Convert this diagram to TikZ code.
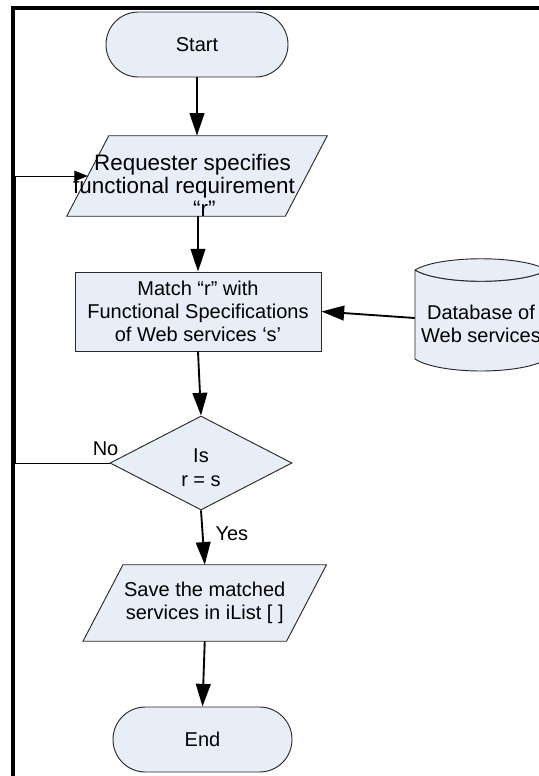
\documentclass[tikz,border=0pt]{standalone}
\usepackage{fontspec}
\setmainfont{Liberation Sans}
\usetikzlibrary{arrows.meta,shapes.geometric,backgrounds}
\definecolor{boxfill}{RGB}{232,238,247}
\definecolor{edgegrey}{RGB}{40,40,40}
\begin{document}
\begin{tikzpicture}[x=0.75pt,y=-0.75pt,
  font=\fontsize{15}{17.5}\selectfont,
  shapebase/.style={draw=edgegrey, line width=0.7pt, fill=boxfill, align=center, inner sep=0pt},
  term/.style={shapebase, rounded corners=24.3pt, minimum width=136.5pt, minimum height=48.75pt},
  parabody/.style={rectangle, align=center, inner sep=0pt},
  procbox/.style={shapebase, rectangle, minimum width=184.5pt, minimum height=59.25pt},
  decision/.style={shapebase, diamond, aspect=2, minimum width=136.5pt, minimum height=70.5pt},
  textlbl/.style={align=center, inner sep=0pt},
  flow/.style={-{Triangle[length=17pt,width=11pt]}, line width=1.4pt, black},
  loopline/.style={-{Triangle[length=10pt,width=8pt]}, line width=0.75pt, black},
  edgelbl/.style={inner sep=0pt}]
\useasboundingbox (0,0) rectangle (539,776);
% frame
\draw[line width=3pt] (13,778) -- (13,7.5) -- (541,7.5);

% nodes
\node[term] (start) at (197,44.5) {Start};
\node[parabody, minimum width=163.5pt, minimum height=60pt,
      label={[inner sep=0pt, align=left, xshift=-9.75pt, yshift=-7pt, font=\fontsize{16.8}{17}\selectfont]center:{\hspace*{15.75pt}Requester specifies\\functional requirement\\\hspace*{90pt}“r”}}]
      (p1) at (197,176) {};
\node[procbox] (match) at (198,311.5) {Match “r” with\\Functional Specifications\\of Web services ‘s’};
\node[decision, label={[textlbl, yshift=-3.5pt]center:{Is\\r = s}}] (dec) at (201,463) {};
\node[parabody, minimum width=152.25pt, minimum height=57pt] (save) at (204.75,603)
      {Save the matched\\services in iList [ ]};
\node[term, minimum width=134.25pt] (finish) at (202.5,739.5) {End};

\begin{scope}[on background layer]
  \path[shapebase] ([xshift=15.75pt]p1.north west) -- ([xshift=15.75pt]p1.north east)
        -- ([xshift=-15.75pt]p1.south east) -- ([xshift=-15.75pt]p1.south west) -- cycle;
  \path[shapebase] ([xshift=15pt]save.north west) -- ([xshift=15pt]save.north east)
        -- ([xshift=-15pt]save.south east) -- ([xshift=-15pt]save.south west) -- cycle;
\end{scope}

% database cylinder
\path[shapebase] (415,270) -- (415,359) .. controls (440,375) and (522,375) .. (547,359) -- (547,270)
      .. controls (522,285) and (440,285) .. (415,270);
\path[shapebase] (415,270) .. controls (440,255) and (522,255) .. (547,270)
      .. controls (522,285) and (440,285) .. (415,270);
\node[textlbl, minimum width=99pt, minimum height=60pt] (db) at (481,324) {Database of\\Web services};

% connectors
\draw[flow] (start.south) -- (start.south |- p1.north);
\draw[flow] (match.north |- p1.south) -- (match.north);
\draw[flow] ([yshift=4.5pt]db.west) -- (match.east);
\draw[flow] (match.south) -- (dec.north);
\draw[flow] (dec.south) -- node[edgelbl, right=9pt, pos=0.42] {Yes} (save.north);
\draw[flow] (save.south) -- (finish.north);
\draw[loopline] (dec.west) node[edgelbl, above=5pt, xshift=-3pt] {No} -- ++(-94,0) |- (p1.west);
\end{tikzpicture}
\end{document}
